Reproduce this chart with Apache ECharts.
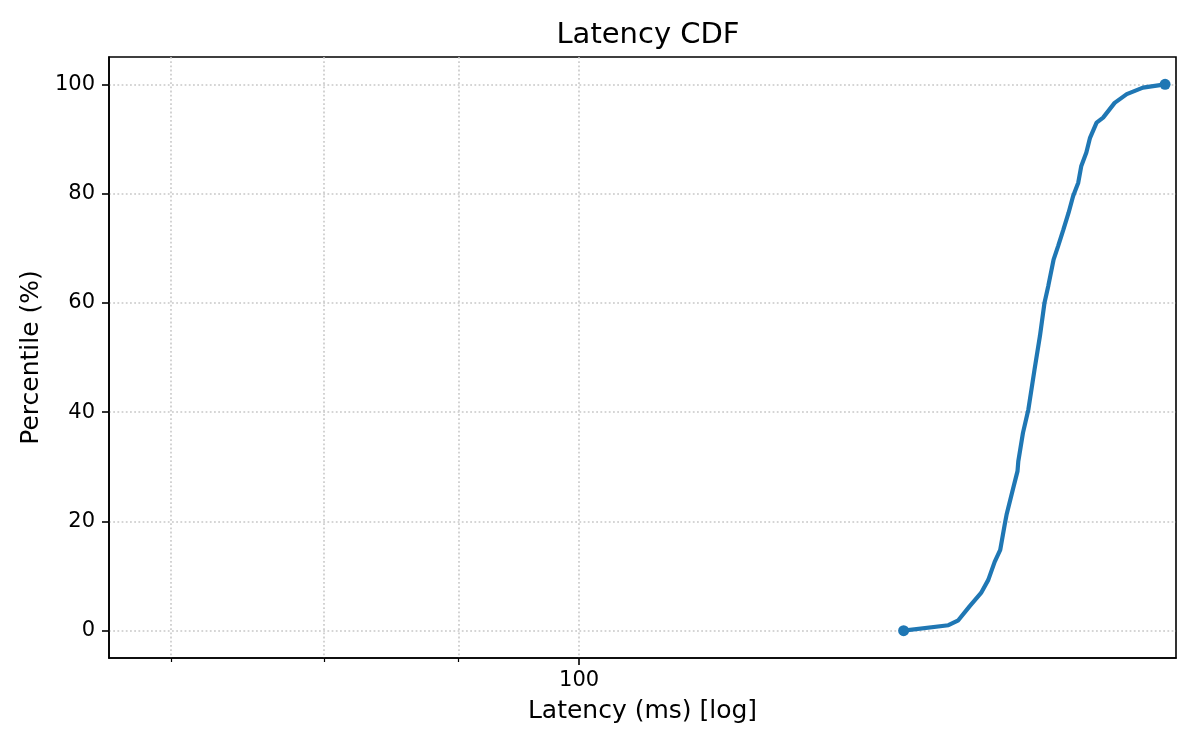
<!DOCTYPE html>
<html>
<head>
<meta charset="utf-8">
<script src="https://cdn.jsdelivr.net/npm/echarts@6/dist/echarts.min.js"></script>
<style>
html,body{margin:0;padding:0;background:#fff;}
#chart{width:1200px;height:750px;}
</style>
</head>
<body>
<div id="chart"></div>
<script>
// Latency (ms)
const latencyMs = [132.8, 138.1, 139.3, 140.7, 142.1, 143.0, 143.8, 144.5, 145.1, 145.3,
  146.2, 146.7, 146.8, 147.4, 148.1, 148.9, 149.6, 150.2, 150.7, 151.4,
  152.0, 152.7, 153.4, 154.0, 154.7, 155.1, 155.8, 156.3, 157.2, 158.1,
  159.7, 161.4, 163.7, 166.9];
// Matching percentile (%)
const percentile = [0, 1.0, 1.9, 4.5, 6.9, 9.3, 12.6, 14.8, 19.7, 21.2,
  26.4, 29.2, 31.0, 36.2, 40.5, 47.8, 53.9, 60.0, 63.1, 67.9,
  70.4, 73.4, 76.5, 79.5, 82.0, 85.0, 87.5, 90.2, 93.0, 93.9,
  96.6, 98.2, 99.4, 100];
const xMajorTicks = [100];
const xMinorTicks = [70, 80, 90];
const yTicks = [0, 20, 40, 60, 80, 100];

const FONT = 'DejaVu Sans';
const gridLine = {show: true, lineStyle: {color: '#c8c8c8', opacity: 1, width: 1.6, type: [1.8, 2.4]}};
const seriesData = latencyMs.map((v, i) => [v, percentile[i]]);
const last = seriesData.length - 1;

const chart = echarts.init(document.getElementById('chart'), null, {renderer: 'canvas'});
chart.setOption({
  animation: false,
  backgroundColor: '#ffffff',
  title: {
    text: 'Latency CDF',
    left: 643, top: 16, textAlign: 'center',
    textStyle: {fontFamily: FONT, fontSize: 29, fontWeight: 'normal', color: '#000'}
  },
  grid: {left: 109, right: 24, top: 57, bottom: 92, show: true, borderColor: '#000', borderWidth: 1.6, backgroundColor: 'transparent'},
  xAxis: [{
    type: 'log', min: 66.3, max: 168.5, position: 'bottom',
    name: 'Latency (ms) [log]', nameLocation: 'middle', nameGap: 41,
    nameTextStyle: {fontFamily: FONT, fontSize: 25, color: '#000'},
    axisLine: {show: true, onZero: false, lineStyle: {color: '#000', width: 1.6}},
    axisTick: {show: true, customValues: xMajorTicks, length: 7, lineStyle: {color: '#000', width: 1.6}},
    axisLabel: {show: true, customValues: xMajorTicks, margin: 12, fontFamily: FONT, fontSize: 21, color: '#000',
      formatter: v => String(Math.round(v))},
    splitLine: gridLine,
    minorTick: {show: false}
  }, {
    type: 'log', min: 66.3, max: 168.5, position: 'bottom',
    axisLine: {show: false, onZero: false},
    axisTick: {show: true, customValues: xMinorTicks, length: 4, lineStyle: {color: '#000', width: 1.2}},
    axisLabel: {show: false, customValues: xMinorTicks},
    splitLine: gridLine
  }],
  yAxis: {
    type: 'value', min: -5, max: 105,
    name: 'Percentile (%)', nameLocation: 'middle', nameGap: 60,
    nameTextStyle: {fontFamily: FONT, fontSize: 25, color: '#000'},
    axisLine: {show: true, onZero: false, lineStyle: {color: '#000', width: 1.6}},
    axisTick: {show: true, customValues: yTicks, length: 7, lineStyle: {color: '#000', width: 1.6}},
    axisLabel: {show: true, customValues: yTicks, margin: 14, fontFamily: FONT, fontSize: 21, color: '#000'},
    splitLine: gridLine
  },
  series: [{
    type: 'line', xAxisIndex: 0, yAxisIndex: 0,
    data: seriesData,
    showAllSymbol: true,
    symbol: 'circle',
    symbolSize: (v, p) => (p.dataIndex === 0 || p.dataIndex === last) ? 11 : 0,
    lineStyle: {color: '#1f77b4', width: 4.2},
    itemStyle: {color: '#1f77b4'},
    emphasis: {disabled: true},
    silent: true
  }]
});
</script>
</body>
</html>
